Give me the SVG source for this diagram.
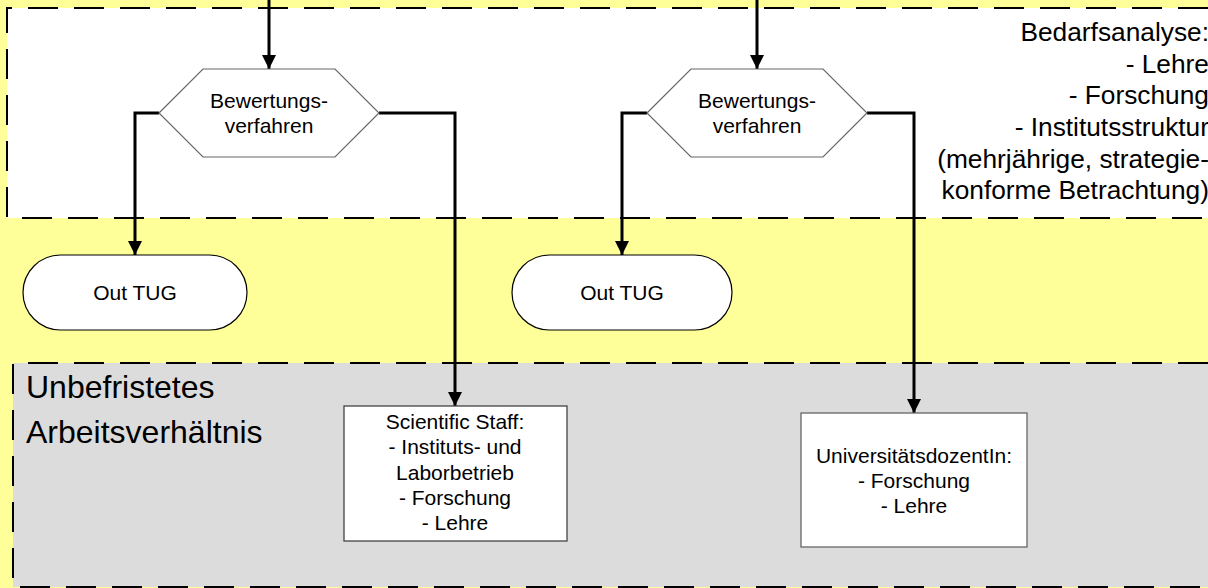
<svg xmlns="http://www.w3.org/2000/svg" width="1208" height="588" viewBox="0 0 1208 588">
<style>
text{font-family:"Liberation Sans",Arial,sans-serif;fill:#000}
.s{font-size:21px;text-anchor:middle}
.big{font-size:26.3px;text-anchor:end}
.lane{font-size:32px}
.dash{fill:none;stroke:#000;stroke-width:2;stroke-dasharray:30 16}
.hex{fill:#fff;stroke:#666;stroke-width:1.2}
.term{fill:#fff;stroke:#000;stroke-width:1.2}
.box{fill:#fff;stroke:#444;stroke-width:1.3}
.conn{fill:none;stroke:#000;stroke-width:3}
</style>
<defs>
<marker id="arr" markerUnits="userSpaceOnUse" markerWidth="14" markerHeight="14" refX="14" refY="7" orient="auto">
<path d="M0,0 L14,7 L0,14 z" fill="#000"/>
</marker>
</defs>
<rect x="0" y="0" width="1208" height="588" fill="#FFFF99"/>
<g id="lane-bedarf">
<rect x="7" y="8" width="1220" height="210" fill="#fff"/>
<path class="dash" d="M1208,8 H7 V218 H1208"/>
<text class="big" x="1209" y="41">Bedarfsanalyse:</text>
<text class="big" x="1209" y="73">- Lehre</text>
<text class="big" x="1209" y="104">- Forschung</text>
<text class="big" x="1209" y="136">- Institutsstruktur</text>
<text class="big" x="1209" y="168">(mehrjährige, strategie-</text>
<text class="big" x="1209" y="199">konforme Betrachtung)</text>
</g>
<g id="lane-unbefristet">
<rect x="13" y="363" width="1220" height="224" fill="#DCDCDC"/>
<path class="dash" d="M1208,363 H13 V587 H1208"/>
<text class="lane" x="26" y="398">Unbefristetes</text>
<text class="lane" x="26" y="443">Arbeitsverhältnis</text>
</g>
<g id="connectors">
<path class="conn" d="M269,0 V69" marker-end="url(#arr)"/>
<path class="conn" d="M757,0 V69" marker-end="url(#arr)"/>
<path class="conn" d="M159,113 H135 V255" marker-end="url(#arr)"/>
<path class="conn" d="M379,113 H455 V406" marker-end="url(#arr)"/>
<path class="conn" d="M647,113 H622 V255" marker-end="url(#arr)"/>
<path class="conn" d="M867,113 H914 V413" marker-end="url(#arr)"/>
</g>
<g id="hex1">
<polygon class="hex" points="159,113 203,69 335,69 379,113 335,157 203,157"/>
<text class="s" x="269" y="107.5">Bewertungs-</text>
<text class="s" x="269" y="133">verfahren</text>
</g>
<g id="hex2">
<polygon class="hex" points="647,113 691,69 823,69 867,113 823,157 691,157"/>
<text class="s" x="757" y="107.5">Bewertungs-</text>
<text class="s" x="757" y="133">verfahren</text>
</g>
<g id="out1">
<rect class="term" x="23" y="255" width="224" height="75" rx="37.5"/>
<text class="s" x="135" y="299.5">Out TUG</text>
</g>
<g id="out2">
<rect class="term" x="512" y="255" width="220" height="75" rx="37.5"/>
<text class="s" x="622" y="299.5">Out TUG</text>
</g>
<g id="staff">
<rect class="box" x="344" y="406" width="223" height="135"/>
<text class="s" x="455" y="429">Scientific Staff:</text>
<text class="s" x="455" y="454">- Instituts- und</text>
<text class="s" x="455" y="480">Laborbetrieb</text>
<text class="s" x="455" y="505">- Forschung</text>
<text class="s" x="455" y="530">- Lehre</text>
</g>
<g id="dozent">
<rect class="box" x="801" y="413" width="226" height="134" style="stroke:#666"/>
<text class="s" x="914" y="462.5">UniversitätsdozentIn:</text>
<text class="s" x="914" y="487.5">- Forschung</text>
<text class="s" x="914" y="512.5">- Lehre</text>
</g>
</svg>
